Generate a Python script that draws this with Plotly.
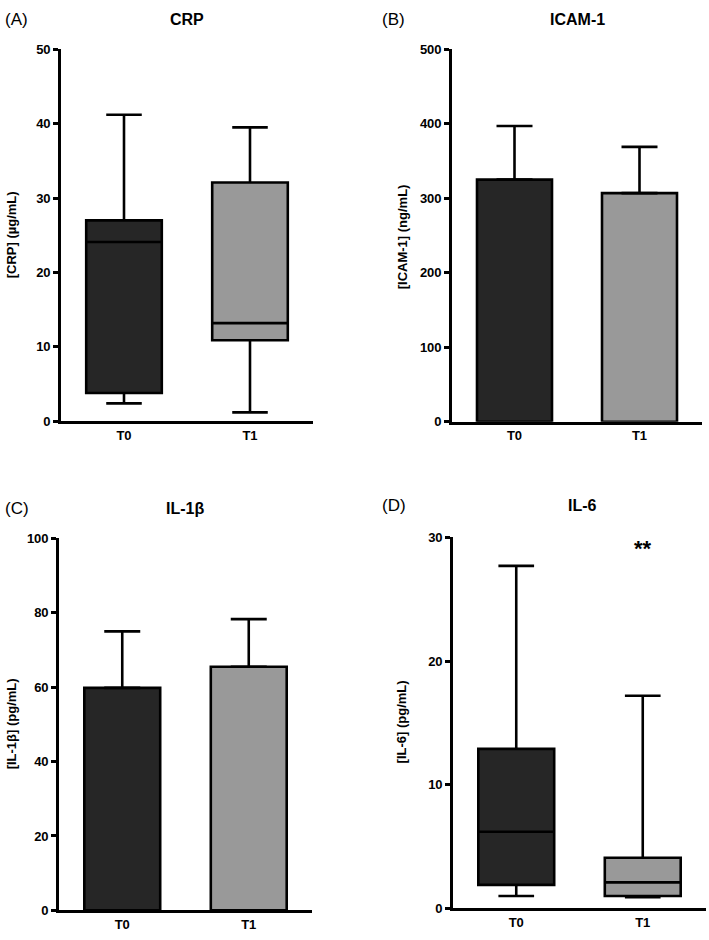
import plotly.graph_objects as go

W, H = 709, 940

# ---- data ----
groups = ["T0", "T1"]
# box stats: [min, q1, median, q3, max]
crp_T0 = [2.4, 3.8, 24.1, 27.0, 41.2]
crp_T1 = [1.2, 10.9, 13.2, 32.1, 39.5]
icam_mean = [325, 307]
icam_upper = [397, 369]
il1b_mean = [59.8, 65.5]
il1b_upper = [75.0, 78.3]
il6_T0 = [1.0, 1.9, 6.2, 12.9, 27.7]
il6_T1 = [0.9, 1.0, 2.1, 4.1, 17.2]

colors = ["#262626", "#999999"]
FONT = "Liberation Sans, Arial, sans-serif"
LW = 2.6

fig = go.Figure()


def add_box(stats, xi, color, ax):
    fig.add_trace(go.Box(
        x=[xi], lowerfence=[stats[0]], q1=[stats[1]], median=[stats[2]],
        q3=[stats[3]], upperfence=[stats[4]],
        fillcolor=color, line=dict(color="black", width=LW),
        width=0.6, whiskerwidth=0.47, boxpoints=False,
        xaxis="x" + ax, yaxis="y" + ax, showlegend=False, hoverinfo="skip"))


def add_bars(means, uppers, ax):
    fig.add_trace(go.Bar(
        x=[0, 1], y=means, width=0.6,
        marker=dict(color=colors, line=dict(color="black", width=LW)),
        error_y=dict(type="data", symmetric=False,
                     array=[u - m for u, m in zip(uppers, means)],
                     arrayminus=[0, 0], color="black", thickness=LW, width=18),
        xaxis="x" + ax, yaxis="y" + ax, showlegend=False, hoverinfo="skip"))


add_box(crp_T0, 0, colors[0], "")
add_box(crp_T1, 1, colors[1], "")
add_bars(icam_mean, icam_upper, "2")
add_bars(il1b_mean, il1b_upper, "3")
add_box(il6_T0, 0, colors[0], "4")
add_box(il6_T1, 1, colors[1], "4")


def dx(a, b):
    return [a / W, b / W]


def dy(top, bottom):
    return [1 - bottom / H, 1 - top / H]


tickfont = dict(family=FONT, size=13, color="black", weight="bold")
xcommon = dict(range=[-0.5, 1.5], tickvals=[0, 1], ticktext=groups,
               showline=True, linecolor="black", linewidth=LW, showgrid=False,
               zeroline=False, ticks="", tickfont=tickfont, fixedrange=True)
ycommon = dict(showline=True, linecolor="black", linewidth=LW, showgrid=False,
               zeroline=False, ticks="outside", ticklen=5, tickwidth=LW,
               tickcolor="black", tickfont=tickfont, fixedrange=True)

panels = [
    # suffix, xdom, ydom, yrange, dtick
    ("", dx(61, 313), dy(43, 421), [0, 50], 10),
    ("2", dx(452, 702), dy(43, 421.5), [0, 500], 100),
    ("3", dx(59, 312), dy(540, 918), [0, 100], 20),
    ("4", dx(453, 706), dy(539, 916), [0, 30], 10),
]
lay = {}
for suf, xd, yd, yr, dt in panels:
    lay["xaxis" + suf] = dict(xcommon, domain=xd, anchor="y" + suf)
    lay["yaxis" + suf] = dict(ycommon, domain=yd, range=yr, dtick=dt, anchor="x" + suf)

ann = []
titles = [("(A)", "CRP", 3, 187, 13), ("(B)", "ICAM-1", 380, 577, 13),
          ("(C)", "IL-1β", 3, 185, 510), ("(D)", "IL-6", 380, 582, 507)]
for lab, title, lx, tx, ty in titles:
    ann.append(dict(text=lab, x=lx / W, y=1 - ty / H, xref="paper", yref="paper",
                    xanchor="left", yanchor="middle", showarrow=False,
                    font=dict(family=FONT, size=17, color="black")))
    ann.append(dict(text=title, x=tx / W, y=1 - ty / H, xref="paper", yref="paper",
                    xanchor="center", yanchor="middle", showarrow=False,
                    font=dict(family=FONT, size=16, color="black", weight="bold")))

ylabels = [("[CRP] (µg/mL)", 11, 232), ("[ICAM-1] (ng/mL)", 402, 234),
           ("[IL-1β] (pg/mL)", 11, 729), ("[IL-6] (pg/mL)", 401, 727)]
for text, x, y in ylabels:
    ann.append(dict(text=text, x=x / W, y=1 - y / H, xref="paper", yref="paper",
                    xanchor="center", yanchor="middle", showarrow=False, textangle=-90,
                    font=dict(family=FONT, size=13, color="black", weight="bold")))

ann.append(dict(text="**", x=1, y=29.1, xref="x4", yref="y4", showarrow=False,
                xanchor="center", yanchor="middle",
                font=dict(family=FONT, size=22, color="black", weight="bold")))

fig.update_layout(width=W, height=H, margin=dict(l=0, r=0, t=0, b=0),
                  paper_bgcolor="white", plot_bgcolor="white",
                  annotations=ann, showlegend=False, **lay)

fig.write_html("out.html", config={"displayModeBar": False},
               post_script="document.body.style.margin='0';")
